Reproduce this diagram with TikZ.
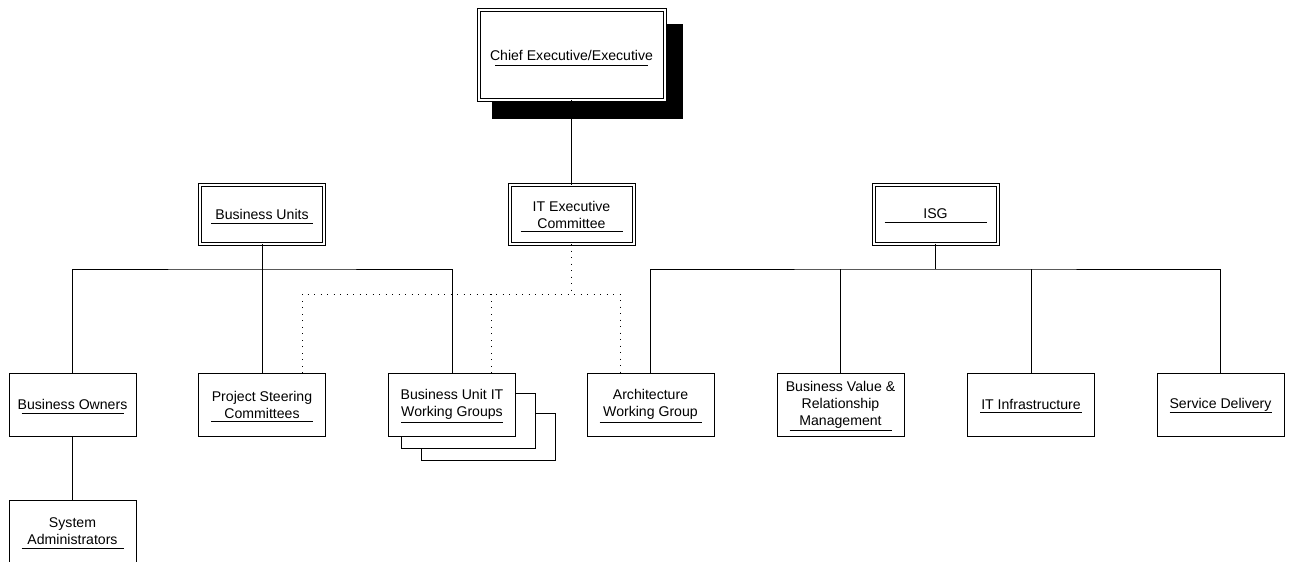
\documentclass[tikz,border=0pt]{standalone}
\usepackage{fontspec}
\setmainfont{Liberation Sans}
\usetikzlibrary{calc,backgrounds}
\tikzset{
  box/.style={draw, line width=1pt, fill=white, minimum width=127pt, minimum height=63pt,
    inner sep=0pt, outer sep=0pt, align=center, font=\fontsize{14.1}{17}\selectfont},
  dbox/.style={box, double, double distance=2pt, minimum width=124pt, minimum height=59pt},
  conn/.style={line width=1pt},
  dots/.style={line width=0.9pt, dash pattern=on 0.9pt off 5.6pt},
  uline/.style={line width=1pt},
}
\newcommand\ulin[3]{\draw[uline] ($(#1.west)+(#3,#2)$) -- ($(#1.east)+(-#3,#2)$);}
\begin{document}
\begin{tikzpicture}[x=1pt,y=-1pt]
\useasboundingbox (0,0) rectangle (1290,562);
\clip (0,0) rectangle (1290,562);
% top box
\node[dbox, minimum width=186pt, minimum height=90pt] (ceo) at (571.5,55) {Chief Executive/Executive};
\begin{scope}[on background layer]
  \fill ($(ceo.north west)+(13,14)$) rectangle ($(ceo.south east)+(18,19)$);
\end{scope}
\ulin{ceo}{10}{16.5}
% second row
\node[dbox] (bu) at (262,214.5) {Business Units};
\node[dbox] (itec) at (571.5,214.5) {IT Executive\\Committee};
\node[dbox] (isg) at (935.5,214) {ISG};
\ulin{bu}{8.5}{11}
\ulin{itec}{17}{11}
\ulin{isg}{8}{11}
% third row
\node[box] (bo) at (72.5,404.5) {Business Owners};
\node[box] (psc) at (262,404.5) {Project Steering\\Committees};
\node[box] (buit) at (452,404.5) {Business Unit IT\\Working Groups};
\node[box] (awg) at (650.5,404.5) {Architecture\\Working Group};
\node[box] (bvr) at (840.5,404.5) {Business Value \&\\Relationship\\Management};
\node[box] (iti) at (1031,404.5) {IT Infrastructure};
\node[box] (sd) at (1220.5,404.5) {Service Delivery};
\node[box] (sa) at (72.5,531.5) {System\\Administrators};
\ulin{bo}{8.5}{12.5}
\ulin{psc}{17}{12.5}
\ulin{buit}{17.5}{12.5}
\ulin{awg}{17.5}{12.5}
\ulin{bvr}{25.5}{12.5}
\ulin{iti}{7.5}{12.5}
\ulin{sd}{7.5}{12.5}
\ulin{sa}{16.5}{12.5}
% stacked copies behind Business Unit IT Working Groups
\draw[conn] ($(buit.north east)+(0,20)$) -- ++(20,0) |- ($(buit.south west)+(13,12)$) -- ++(0,-12);
\draw[conn] ($(buit.north east)+(20,40)$) -- ++(20,0) |- ($(buit.south west)+(33,24)$) -- ++(0,-12);
% junctions
\coordinate (buj) at (262,269);
\coordinate (isgj) at (935.5,269);
\coordinate (dj) at (571.5,294);
% solid connectors
\draw[conn] (ceo.south) -- (itec.north);
\draw[conn] (bu.south) -- (psc.north);
\draw[conn] (bo.north) |- (buj) -| (buit.north);
\draw[conn, line width=1.6pt] (isg.south) -- (isgj);
\draw[conn] (awg.north) |- (isgj) -| (sd.north);
\draw[conn] (bvr.north) -- (bvr.north |- isgj);
\draw[conn] (iti.north) -- (iti.north |- isgj);
\draw[conn] (bo.south) -- (sa.north);
% dotted connectors
\draw[dots] (itec.south) -- (dj);
\draw[dots] ([xshift=40pt]psc.north) |- (dj) -| ([xshift=-30.5pt]awg.north);
\draw[dots] ([xshift=39pt]buit.north) -- ([xshift=39pt]buit.north |- dj);
\end{tikzpicture}
\end{document}
